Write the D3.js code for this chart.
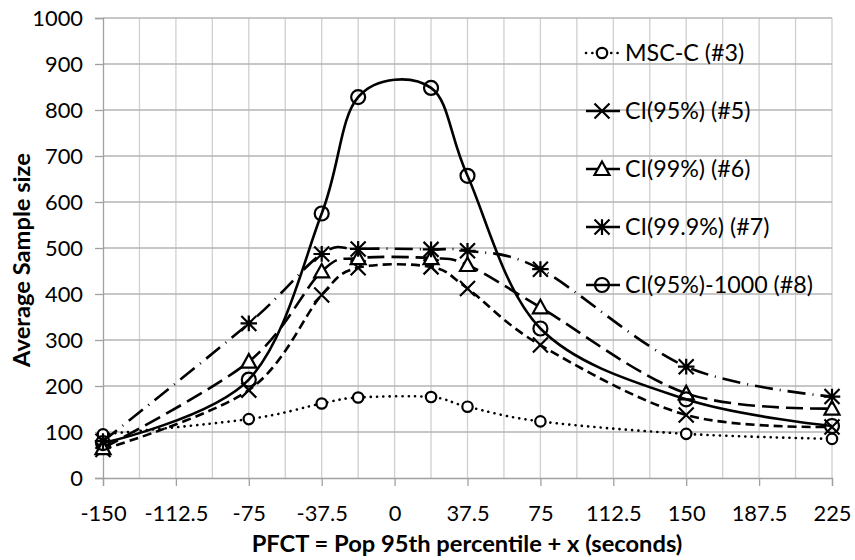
<!DOCTYPE html>
<html>
<head>
<meta charset="utf-8">
<script src="https://cdn.jsdelivr.net/npm/d3@7"></script>
<style>
  html, body { margin: 0; padding: 0; background: #fff; }
  svg { display: block; }
  text { font-family: Lato, "Open Sans", sans-serif; fill: #000; }
</style>
</head>
<body>
<svg id="chart" width="855" height="560"></svg>
<script>
// ---- data ----
const xValues = [-150, -75, -37.5, -18.75, 18.75, 37.5, 75, 150, 225];
const xTicks = [-150, -112.5, -75, -37.5, 0, 37.5, 75, 112.5, 150, 187.5, 225];
const yTicks = [0, 100, 200, 300, 400, 500, 600, 700, 800, 900, 1000];
const seriesNames = ["MSC-C (#3)", "CI(95%) (#5)", "CI(99%) (#6)", "CI(99.9%) (#7)", "CI(95%)-1000 (#8)"];
const mscC   = [95, 128, 162, 175, 176, 155, 123, 96, 85];
const ci95   = [62, 191, 398, 457, 459, 412, 289, 137, 111];
const ci99   = [65, 253, 449, 478, 478, 463, 371, 184, 151];
const ci999  = [80, 336, 487, 498, 497, 494, 454, 242, 177];
const ci95k  = [76, 214, 575, 828, 848, 657, 325, 171, 113];
const xLabel = "PFCT = Pop 95th percentile + x (seconds)";
const yLabel = "Average Sample size";

// ---- styles ----
const styles = [
  { dash: "0.1 6.2", marker: "circleS" },
  { dash: "9 5", marker: "x" },
  { dash: "17 7", marker: "tri" },
  { dash: "18 7 1 7", marker: "star" },
  { dash: null, marker: "circleL" }
];
const seriesData = [mscC, ci95, ci99, ci999, ci95k];

const svg = d3.select("#chart");
const x = d3.scaleLinear().domain([-150, 225]).range([103, 832]);
const y = d3.scaleLinear().domain([0, 1000]).range([478, 18]);

// measure helper: font size giving a target width
function fitSize(str, target, weight) {
  const t = svg.append("text").style("font-size", "20px").style("font-weight", weight || "normal").text(str);
  const w = t.node().getComputedTextLength();
  t.remove();
  return 20 * target / w;
}
const tickFs = fitSize("-112.5", 64);
const legFs = fitSize("CI(95%)-1000 (#8)", 188);
const titleFs = fitSize(xLabel, 431, "bold");

// grid
const minorX = d3.range(-150, 225.01, 18.75);
svg.append("g").selectAll("line").data(minorX.filter(d => d !== -150)).join("line")
  .attr("x1", d => x(d)).attr("x2", d => x(d)).attr("y1", y(1000)).attr("y2", y(0))
  .attr("stroke", "#d0d0d0").attr("stroke-width", 1.3);
svg.append("g").selectAll("line").data(yTicks.filter(d => d !== 0)).join("line")
  .attr("x1", x(-150)).attr("x2", x(225)).attr("y1", d => y(d)).attr("y2", d => y(d))
  .attr("stroke", "#b4b4b4").attr("stroke-width", 1.3);

// axes
const xAxis = d3.axisBottom(x).tickValues(xTicks).tickSize(8).tickPadding(19)
  .tickFormat(d => String(d));
const gx = svg.append("g").attr("transform", `translate(0,${y(0)})`).call(xAxis);
gx.select(".domain").attr("stroke", "#a0a0a0").attr("stroke-width", 1.3);
gx.selectAll(".tick line").attr("stroke", "#a0a0a0").attr("stroke-width", 1.3);
gx.selectAll("text").style("font-size", tickFs + "px").attr("dy", "0.71em");

const yAxis = d3.axisLeft(y).tickValues(yTicks).tickSize(8).tickPadding(12).tickFormat(d3.format("d"));
const gy = svg.append("g").attr("transform", `translate(${x(-150)},0)`).call(yAxis);
gy.select(".domain").attr("stroke", "#a0a0a0").attr("stroke-width", 1.3);
gy.selectAll(".tick line").attr("stroke", "#a0a0a0").attr("stroke-width", 1.3);
gy.selectAll("text").style("font-size", tickFs + "px");

// axis titles
svg.append("text").attr("x", 467).attr("y", 552)
  .attr("text-anchor", "middle").style("font-size", titleFs + "px").style("font-weight", "bold")
  .text(xLabel);
svg.append("text").attr("transform", `translate(30,260) rotate(-90)`)
  .attr("text-anchor", "middle").style("font-size", titleFs + "px").style("font-weight", "bold")
  .text(yLabel);

// markers
function drawMarker(g, type, cx, cy) {
  const sw = 2.2;
  if (type === "circleS") {
    g.append("circle").attr("cx", cx).attr("cy", cy).attr("r", 5.2)
      .attr("fill", "#fff").attr("stroke", "#000").attr("stroke-width", sw);
  } else if (type === "circleL") {
    g.append("circle").attr("cx", cx).attr("cy", cy).attr("r", 7)
      .attr("fill", "none").attr("stroke", "#000").attr("stroke-width", sw);
  } else if (type === "x") {
    const s = 7.5;
    g.append("path").attr("d", `M${cx-s},${cy-s}L${cx+s},${cy+s}M${cx-s},${cy+s}L${cx+s},${cy-s}`)
      .attr("stroke", "#000").attr("stroke-width", sw).attr("fill", "none");
  } else if (type === "tri") {
    const s = 7.5;
    g.append("path").attr("d", `M${cx},${cy-s}L${cx+s},${cy+s*0.8}L${cx-s},${cy+s*0.8}Z`)
      .attr("stroke", "#000").attr("stroke-width", sw).attr("fill", "#fff");
  } else if (type === "star") {
    const s = 7.5;
    g.append("path").attr("d",
      `M${cx-s},${cy-s}L${cx+s},${cy+s}M${cx-s},${cy+s}L${cx+s},${cy-s}M${cx},${cy-s*1.05}L${cx},${cy+s*1.05}M${cx-s*1.1},${cy}L${cx+s*1.1},${cy}`)
      .attr("stroke", "#000").attr("stroke-width", sw).attr("fill", "none");
  }
}

const line = d3.line().x(d => x(d[0])).y(d => y(d[1])).curve(d3.curveCardinal.tension(0));

seriesData.forEach((vals, i) => {
  const pts = xValues.map((xv, j) => [xv, vals[j]]);
  const g = svg.append("g");
  const p = g.append("path").datum(pts).attr("d", line)
    .attr("fill", "none").attr("stroke", "#000").attr("stroke-width", 2.6);
  if (styles[i].dash) p.attr("stroke-dasharray", styles[i].dash);
  if (i === 0) p.attr("stroke-linecap", "round");
  pts.forEach(pt => drawMarker(g, styles[i].marker, x(pt[0]), y(pt[1])));
});

// legend
const legY = [53, 111, 169, 227, 285];
seriesNames.forEach((name, i) => {
  const g = svg.append("g");
  const ly = legY[i];
  const l = g.append("line").attr("x1", 586).attr("x2", 620).attr("y1", ly).attr("y2", ly)
    .attr("stroke", "#000").attr("stroke-width", 2.6);
  if (i === 0) l.attr("stroke-dasharray", "0.1 6.2").attr("stroke-linecap", "round");
  drawMarker(g, styles[i].marker, 602, ly);
  g.append("text").attr("x", 625).attr("y", ly).attr("dy", "0.35em")
    .style("font-size", legFs + "px").text(name);
});
</script>
</body>
</html>
